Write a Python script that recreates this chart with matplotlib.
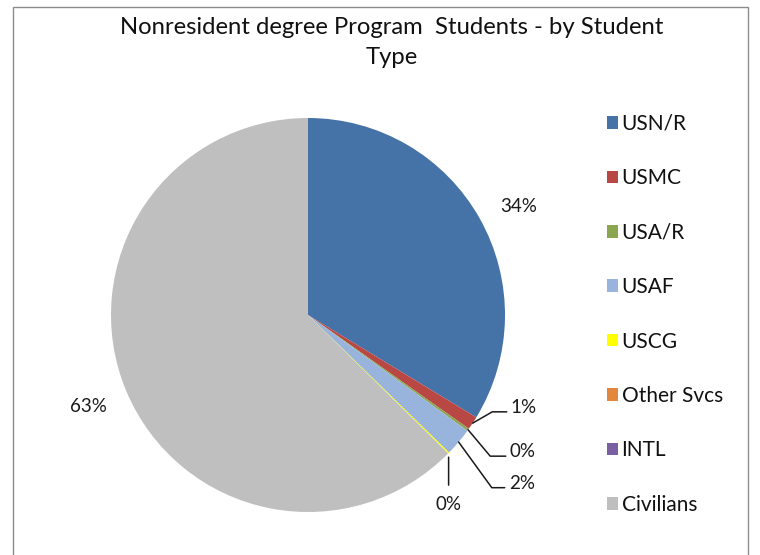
import numpy as np
import matplotlib
matplotlib.use("Agg")
import matplotlib.pyplot as plt
from matplotlib.patches import Rectangle

plt.rcParams['font.family'] = ['Lato', 'DejaVu Sans']

# datos del grafico (porcentajes)
categorias = ['USN/R', 'USMC', 'USA/R', 'USAF', 'USCG', 'Other Svcs', 'INTL', 'Civilians']
valores = [33.7, 1.1, 0.2, 2.3, 0.1, 0.0, 0.0, 62.6]
etiquetas = ['34%', '1%', '0%', '2%', '0%', '', '', '63%']
colores = ['#4572A7', '#B94744', '#8AA64F', '#98B4DC', '#FFFF00', '#E2873B', '#7A5FA3', '#BFBFBF']

# posicion de las etiquetas (x, y en radios) y angulo de la linea guia
pos_etiq = [(1.07, 0.55), (1.03, -0.47), (1.025, -0.695), (1.02, -0.855),
            (0.72, -0.92), None, None, (-1.117, -0.467)]
guia = [None, 30, -50, -54, 'v', None, None, None]

fig = plt.figure(figsize=(7.6, 5.55), dpi=100)
fig.patch.set_facecolor('white')
ax = fig.add_axes([0, 0, 1, 1])

# 1 unidad = 197 px, centro en (308, 315) px
R = 197.0
cx, cy = 308.0, 315.0

# marco del grafico
fig.patches.append(Rectangle((13 / 760, -0.1), (748 - 13) / 760, 1.1 - 7 / 555,
                             transform=fig.transFigure, fill=False,
                             edgecolor='#8C8C8C', lw=1.0))

wedges, _ = ax.pie(valores, colors=colores, startangle=90, counterclock=False,
                   radius=1.0, center=(0, 0), frame=True,
                   wedgeprops=dict(linewidth=0))
ax.set_xlim(-cx / R, (760 - cx) / R)
ax.set_ylim(-(555 - cy) / R, cy / R)
ax.axis('off')

col_txt = '#1A1A1A'
for w, txt, p, g in zip(wedges, etiquetas, pos_etiq, guia):
    if p is None or txt == '':
        continue
    ang = np.deg2rad((w.theta1 + w.theta2) / 2)
    borde = (np.cos(ang), np.sin(ang))
    if g is None:
        ax.text(p[0], p[1], txt, ha='center', va='center', fontsize=13.5, color=col_txt)
    elif g == 'v':
        ax.annotate(txt, xy=borde, xytext=(borde[0], p[1]), ha='center', va='top',
                    fontsize=13.5, color=col_txt,
                    arrowprops=dict(arrowstyle='-', color=col_txt, lw=1.1,
                                    shrinkA=6, shrinkB=3, relpos=(0.5, 1.0)))
    else:
        ax.annotate(txt, xy=borde, xytext=p, ha='left', va='center',
                    fontsize=13.5, color=col_txt,
                    arrowprops=dict(arrowstyle='-', color=col_txt, lw=1.1,
                                    connectionstyle='angle,angleA=0,angleB=%d,rad=0' % g,
                                    shrinkA=1, shrinkB=0, relpos=(0.0, 0.25)))

fig.text(392 / 760, 1 - 27 / 555, 'Nonresident degree Program  Students - by Student',
         ha='center', va='center', fontsize=17.2, color='#111111')
fig.text(392 / 760, 1 - 57 / 555, 'Type', ha='center', va='center', fontsize=17.2, color='#111111')

leg = fig.legend(wedges, categorias, loc='upper left',
                 bbox_to_anchor=(607 / 760, 1 - 114 / 555),
                 frameon=False, fontsize=15, borderpad=0, borderaxespad=0,
                 handlelength=0.55, handleheight=0.55, handletextpad=0.15,
                 labelspacing=1.65)
for t in leg.get_texts():
    t.set_color('#111111')

fig.savefig('out.png', dpi=100, facecolor='white')
